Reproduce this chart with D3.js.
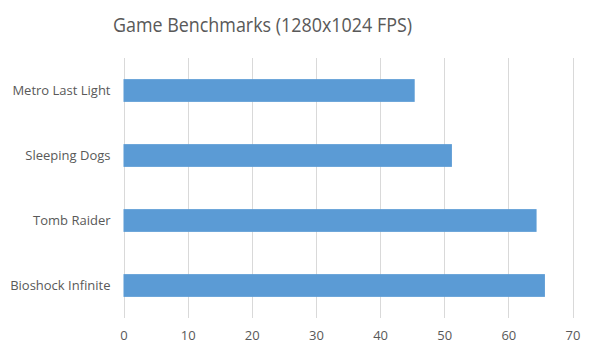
<!DOCTYPE html>
<html><head><meta charset="utf-8">
<script src="https://cdn.jsdelivr.net/npm/d3@7"></script>
<style>body{margin:0;background:#fff}svg{display:block}</style>
</head><body>
<svg id="c" width="593" height="356"></svg>
<script>
const categories = ["Metro Last Light","Sleeping Dogs","Tomb Raider","Bioshock Infinite"];
const values = [45.4, 51.2, 64.4, 65.7];
const xTicks = [0,10,20,30,40,50,60,70];
const title = "Game Benchmarks (1280x1024 FPS)";

const svg = d3.select("#c");
const W = 593, H = 356;
const m = {left:123.5, right:20.5, top:58, bottom:38};
const x = d3.scaleLinear().domain([0,70]).range([m.left, W - m.right]);
const y = d3.scaleBand().domain(categories).range([m.top, H - m.bottom]).paddingInner(0.65).paddingOuter(0.325);
const font = "'Open Sans', sans-serif";

svg.append("g").selectAll("line").data(xTicks).join("line")
  .attr("x1", d => Math.round(x(d)) + 0.5).attr("x2", d => Math.round(x(d)) + 0.5)
  .attr("y1", m.top).attr("y2", H - m.bottom)
  .attr("stroke", "#d9d9d9").attr("stroke-width", 1);

svg.append("g").selectAll("rect").data(values).join("rect")
  .attr("x", x(0)).attr("y", (d,i) => y(categories[i]))
  .attr("width", d => x(d) - x(0)).attr("height", y.bandwidth())
  .attr("fill", "#5b9bd5");

const xa = svg.append("g").attr("transform", `translate(0,${H - m.bottom})`)
  .call(d3.axisBottom(x).tickValues(xTicks).tickSize(0).tickPadding(13));
xa.select(".domain").remove();
xa.selectAll("text").attr("font-family", font).attr("font-size", 13).attr("fill", "#595959");

const ya = svg.append("g").attr("transform", `translate(${m.left},0)`)
  .call(d3.axisLeft(y).tickSize(0).tickPadding(13));
ya.select(".domain").remove();
ya.selectAll("text").attr("font-family", font).attr("font-size", 13).attr("fill", "#595959");

svg.append("text").attr("x", 262.5).attr("y", 32).attr("text-anchor", "middle")
  .attr("font-family", font).attr("font-size", 20).attr("fill", "#595959")
  .attr("textLength", 299).attr("lengthAdjust", "spacingAndGlyphs").text(title);
</script>
</body></html>
